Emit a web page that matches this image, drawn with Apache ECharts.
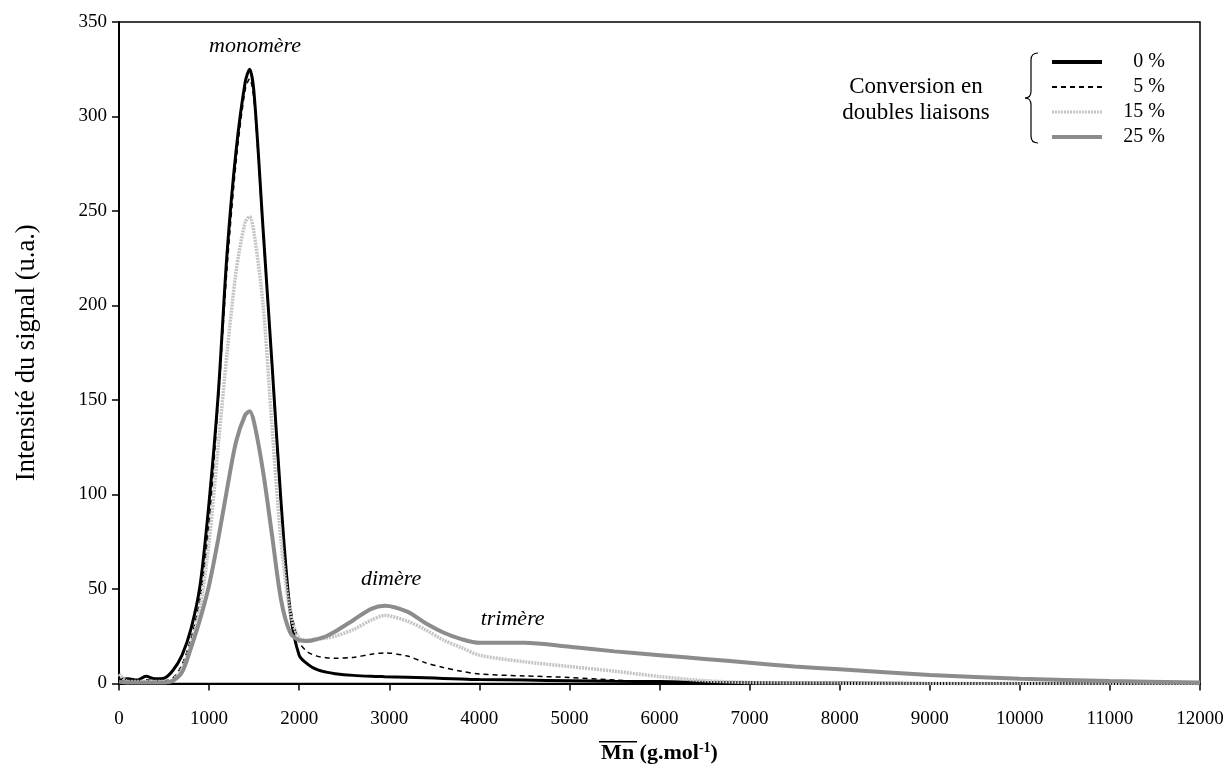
<!DOCTYPE html>
<html>
<head>
<meta charset="utf-8">
<script src="https://cdn.jsdelivr.net/npm/echarts@6/dist/echarts.min.js"></script>
<style>
  html, body { margin: 0; padding: 0; background: #fff; }
  #chart { width: 1231px; height: 769px; }
</style>
</head>
<body>
<div id="chart"></div>
<script>
// masse molaire (g/mol)
const mn = [0, 100, 200, 300, 400, 500, 600, 700, 800, 900, 1000, 1100, 1200, 1300, 1400, 1450, 1500, 1600, 1700, 1800, 1900, 2000,
  2100, 2200, 2300, 2400, 2600, 2800, 2950, 3200, 3400, 3600, 3800, 4000, 4500, 5000, 5500, 6000, 6500, 7000, 7500, 8000,
  9000, 10000, 11000, 12000];

const conv0 = [2, 2.5, 1.8, 3.8, 2.5, 2.8, 7, 15, 29, 52, 96, 152, 228, 282, 318, 325, 312, 240, 168, 95, 38, 15,
  10, 7.3, 6, 5.2, 4.3, 3.8, 3.6, 3.3, 3, 2.7, 2.4, 2.1, 1.8, 1.5, 1.2, 1, 0.7, 0.5, 0.3, 0.2,
  0, 0, 0, 0];
const conv5 = [1.5, 1.5, 1.5, 2, 1.5, 1.5, 3, 10, 24, 45, 85, 148, 220, 276, 314, 320, 308, 238, 166, 93, 42, 22,
  16.5, 14.5, 13.6, 13.4, 13.8, 15.5, 16.2, 14.5, 11, 8.5, 6.5, 5, 4, 3.2, 1.8, 0.8, 0.3, 0.1, 0, 0,
  0, 0, 0, 0];
const conv15 = [5, 1, 1, 1, 1, 1, 2, 8, 21, 40, 75, 125, 175, 218, 244, 247, 238, 200, 135, 75, 38, 24,
  23, 23.5, 24, 25, 28.5, 33.5, 36, 33, 28.5, 23, 19, 15, 11.5, 9, 6.5, 3.7, 1.5, 0.5, 0.3, 0.2,
  0, 0, 0, 0];
const conv25 = [1, 0.5, 0.5, 0.5, 0.5, 0.5, 1.5, 6, 19, 34, 52, 76, 103, 128, 142, 144, 138, 112, 78, 44, 27, 23,
  22.5, 23.5, 25, 27.5, 33.5, 39.5, 41.2, 38, 32, 27, 23.5, 21.5, 21.5, 19.5, 17, 15, 13, 11, 9, 7.5,
  4.5, 2.5, 1.3, 0.5];

const seriesNames = ['0 %', '5 %', '15 %', '25 %'];

const annotations = [
  { name: 'monomère', coord: [1510, 337] },
  { name: 'dimère', coord: [3020, 55] },
  { name: 'trimère', coord: [4370, 34] }
];

const serif = 'Liberation Serif, Times New Roman, serif';

function pairs(ys) {
  return mn.map((x, i) => [x, ys[i]]);
}

const chart = echarts.init(document.getElementById('chart'));

// accolade de la légende
const braceStyle = { fill: 'none', stroke: '#000', lineWidth: 1.2 };
const brace = [
  { type: 'bezierCurve', shape: { x1: 1038, y1: 53, x2: 1031, y2: 60, cpx1: 1031, cpy1: 53 }, style: braceStyle },
  { type: 'line', shape: { x1: 1031, y1: 60, x2: 1031, y2: 91 }, style: braceStyle },
  { type: 'bezierCurve', shape: { x1: 1031, y1: 91, x2: 1025, y2: 98, cpx1: 1031, cpy1: 98 }, style: braceStyle },
  { type: 'bezierCurve', shape: { x1: 1025, y1: 98, x2: 1031, y2: 105, cpx1: 1031, cpy1: 98 }, style: braceStyle },
  { type: 'line', shape: { x1: 1031, y1: 105, x2: 1031, y2: 136 }, style: braceStyle },
  { type: 'bezierCurve', shape: { x1: 1031, y1: 136, x2: 1038, y2: 143, cpx1: 1031, cpy1: 143 }, style: braceStyle }
];

const legendWidths = [4, 2, 3, 4];

const option = {
  backgroundColor: '#fff',
  animation: false,
  grid: {
    left: 119, right: 31, top: 22, bottom: 85,
    show: true,
    borderColor: '#000',
    borderWidth: 1.5
  },
  legend: {
    orient: 'vertical',
    left: 1045,
    top: 47,
    itemWidth: 50,
    itemHeight: 14,
    itemGap: 5,
    selectedMode: false,
    itemStyle: { opacity: 0 },
    data: seriesNames.map((n, i) => ({ name: n, lineStyle: { width: legendWidths[i] } })),
    formatter: function (name) {
      return '{a|' + name + '}';
    },
    textStyle: {
      fontFamily: serif,
      fontSize: 20,
      color: '#000',
      rich: {
        a: { width: 58, align: 'right', lineHeight: 20, fontFamily: serif, fontSize: 20, color: '#000' }
      }
    }
  },
  xAxis: {
    type: 'value',
    min: 0,
    max: 12000,
    interval: 1000,
    name: '{t|Mn (g.mol}{s|-1}{t|)}',
    nameLocation: 'middle',
    nameGap: 58,
    nameTextStyle: {
      rich: {
        t: { fontFamily: serif, fontSize: 22, fontWeight: 'bold', color: '#000' },
        s: { fontFamily: serif, fontSize: 14, fontWeight: 'bold', color: '#000', padding: [0, 0, 9, 0] }
      }
    },
    axisLine: { lineStyle: { color: '#000', width: 2 } },
    axisTick: { length: 7, lineStyle: { color: '#000', width: 1.5 } },
    axisLabel: {
      fontFamily: serif, fontSize: 19, color: '#000', margin: 26,
      formatter: v => String(v)
    },
    splitLine: { show: false }
  },
  yAxis: {
    type: 'value',
    min: 0,
    max: 350,
    interval: 50,
    name: 'Intensité du signal (u.a.)',
    nameLocation: 'middle',
    nameGap: 78,
    nameTextStyle: { fontFamily: serif, fontSize: 26.5, color: '#000' },
    axisLine: { show: true, lineStyle: { color: '#000', width: 2 } },
    axisTick: { show: true, length: 7, lineStyle: { color: '#000', width: 1.5 } },
    axisLabel: { fontFamily: serif, fontSize: 19, color: '#000', margin: 12 },
    splitLine: { show: false }
  },
  series: [
    {
      name: seriesNames[0], type: 'line', symbol: 'none', smooth: 0.3,
      lineStyle: { color: '#000', width: 3 },
      itemStyle: { color: '#000' },
      data: pairs(conv0)
    },
    {
      name: seriesNames[1], type: 'line', symbol: 'none', smooth: 0.3,
      lineStyle: { color: '#000', width: 1.5, type: [5, 4] },
      itemStyle: { color: '#000' },
      data: pairs(conv5)
    },
    {
      name: seriesNames[2], type: 'line', symbol: 'none', smooth: 0.3,
      lineStyle: { color: '#c4c4c4', width: 3.5, type: [2, 1] },
      itemStyle: { color: '#c4c4c4' },
      data: pairs(conv15)
    },
    {
      name: seriesNames[3], type: 'line', symbol: 'none', smooth: 0.3,
      lineStyle: { color: '#8c8c8c', width: 4 },
      itemStyle: { color: '#8c8c8c' },
      data: pairs(conv25),
      markPoint: {
        symbol: 'circle',
        symbolSize: 0,
        silent: true,
        label: {
          show: true,
          position: 'inside',
          formatter: '{b}',
          fontFamily: serif,
          fontSize: 22,
          fontStyle: 'italic',
          color: '#000'
        },
        data: annotations.map(a => ({ name: a.name, coord: a.coord }))
      }
    }
  ],
  graphic: brace.concat([
    {
      type: 'text',
      x: 916,
      y: 74,
      style: {
        text: 'Conversion en\ndoubles liaisons',
        align: 'center',
        font: '23px ' + serif,
        lineHeight: 26,
        fill: '#000'
      }
    },
    {
      type: 'rect',
      shape: { x: 599, y: 741, width: 38, height: 1.5 },
      style: { fill: '#000' }
    }
  ])
};

chart.setOption(option);
</script>
</body>
</html>
